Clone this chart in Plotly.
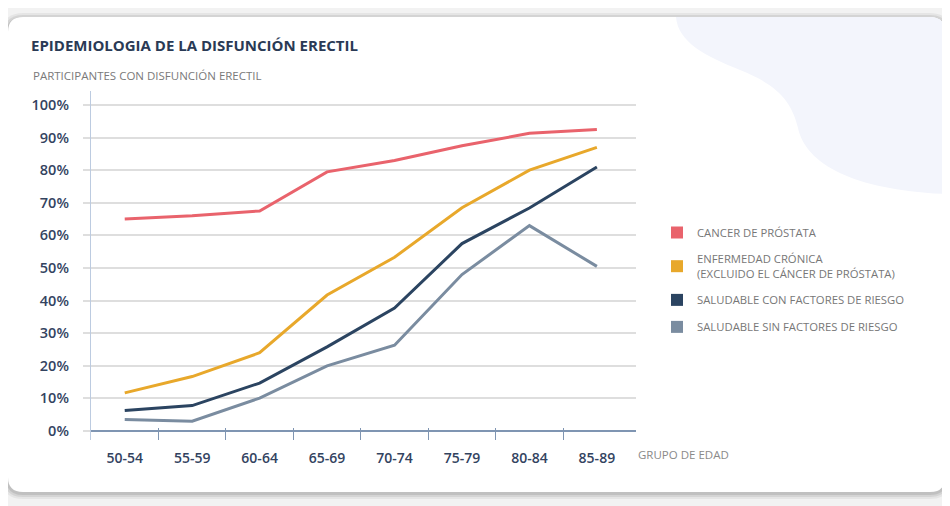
import plotly.graph_objects as go

# ---------------- data ----------------
age_groups = ["50-54", "55-59", "60-64", "65-69", "70-74", "75-79", "80-84", "85-89"]
cancer_prostata = [65, 66, 67.5, 79.5, 83, 87.5, 91.3, 92.5]
enfermedad_cronica = [11.7, 16.7, 24, 41.7, 53.3, 68.5, 80, 87]
saludable_con_factores = [6.3, 7.8, 14.7, 25.8, 37.7, 57.5, 68.4, 81]
saludable_sin_factores = [3.5, 3.0, 10.1, 20, 26.3, 48, 63, 50.5]

series_names = [
    "CANCER DE PRÓSTATA",
    "ENFERMEDAD CRÓNICA<br>(EXCLUIDO EL CÁNCER DE PRÓSTATA)",
    "SALUDABLE CON FACTORES DE RIESGO",
    "SALUDABLE SIN FACTORES DE RIESGO",
]
series_values = [cancer_prostata, enfermedad_cronica, saludable_con_factores, saludable_sin_factores]
series_colors = ["#e9636c", "#e8a82b", "#2b4461", "#7a8ca0"]

y_ticks = list(range(0, 101, 10))
y_labels = [f"{v}%" for v in y_ticks]

# ---------------- geometry helpers ----------------
OFF = 8  # page body margin
W, H = 950 - OFF, 506 - OFF
L, R, T, B = 91, 636, 91, 440  # in reference (window) pixels


def px(x):
    return (x - L) / (R - L)


def py(y):
    return (B - y) / (B - T)


def rrect(x0, y0, x1, y1, r):
    return (
        f"M {px(x0 + r)},{py(y0)} L {px(x1 - r)},{py(y0)} "
        f"Q {px(x1)},{py(y0)} {px(x1)},{py(y0 + r)} "
        f"L {px(x1)},{py(y1 - r)} Q {px(x1)},{py(y1)} {px(x1 - r)},{py(y1)} "
        f"L {px(x0 + r)},{py(y1)} Q {px(x0)},{py(y1)} {px(x0)},{py(y1 - r)} "
        f"L {px(x0)},{py(y0 + r)} Q {px(x0)},{py(y0)} {px(x0 + r)},{py(y0)} Z"
    )


fig = go.Figure()

x_idx = list(range(len(age_groups)))
for name, vals, col in zip(series_names, series_values, series_colors):
    fig.add_trace(go.Scatter(
        x=x_idx, y=vals, mode="lines", line=dict(color=col, width=3),
        showlegend=False, hoverinfo="skip",
    ))

for i, (name, col) in enumerate(zip(series_names, series_colors)):
    fig.add_trace(go.Scatter(
        x=[None], y=[None], mode="markers", xaxis="x2",
        marker=dict(symbol="square", size=12, color=col),
        name=name, legendgroup=f"g{i}", showlegend=True,
    ))

# card shapes
shapes = []
for off, op in [(6, 0.05), (4, 0.07), (2, 0.09)]:
    shapes.append(dict(type="path", xref="paper", yref="paper", layer="below",
                       path=rrect(8 - off, 17 - off + 2, 945 + off, 492 + off + 1, 15 + off),
                       fillcolor=f"rgba(0,0,0,{op})", line=dict(width=0)))
shapes.append(dict(type="path", xref="paper", yref="paper", layer="below",
                   path=rrect(8, 17, 945, 492, 15),
                   fillcolor="#ffffff", line=dict(width=0)))
blob = (f"M {px(676)},{py(17)} "
        f"C {px(678)},{py(42)} {px(705)},{py(56)} {px(740)},{py(70)} "
        f"C {px(778)},{py(85)} {px(792)},{py(102)} {px(798)},{py(128)} "
        f"C {px(806)},{py(165)} {px(855)},{py(190)} {px(945)},{py(194)} "
        f"L {px(945)},{py(32)} Q {px(945)},{py(17)} {px(930)},{py(17)} Z")
shapes.append(dict(type="path", xref="paper", yref="paper", layer="below",
                   path=blob, fillcolor="#f3f5fc", line=dict(width=0)))

y0_px, y100_px = 431, 105
scale = (y0_px - y100_px) / 100
yr = [-(B - y0_px) / scale, 100 + (y100_px - T) / scale]

label_color = "#33435f"
fam = "Open Sans"
fig.update_layout(
    width=W, height=H,
    margin=dict(l=L - OFF, r=950 - R, t=T - OFF, b=506 - B, pad=0),
    paper_bgcolor="#f2f2f2",
    plot_bgcolor="rgba(0,0,0,0)",
    font=dict(family=fam, color=label_color),
    shapes=shapes,
    title=dict(text="EPIDEMIOLOGIA DE LA DISFUNCIÓN ERECTIL",
               x=(31 - OFF) / W, xanchor="left", xref="container",
               y=1 - (46 - OFF) / H, yanchor="middle", yref="container",
               font=dict(family=fam, size=15, color="#2a3a55", weight="bold")),
    xaxis=dict(range=[-0.5, 7.58], tickvals=[i + 0.5 for i in range(len(age_groups) - 1)],
               showticklabels=False, ticks="inside", ticklen=12, tickwidth=1.3,
               tickcolor="#7f95b2", showgrid=False, zeroline=False, showline=False,
               fixedrange=True),
    xaxis2=dict(overlaying="x", matches="x", anchor="y", side="bottom",
                tickvals=x_idx, ticktext=age_groups, ticks="", showgrid=False,
                zeroline=False, showline=False, ticklabelstandoff=8,
                tickfont=dict(family=fam, size=14, color=label_color, weight=600)),
    yaxis=dict(range=yr, tickvals=y_ticks, ticktext=y_labels, ticks="outside",
               ticklen=7, tickcolor="#dedede", tickwidth=1.5,
               showgrid=True, gridcolor="#dedede", gridwidth=1.5,
               zeroline=True, zerolinecolor="#7f95b2", zerolinewidth=1.5,
               showline=True, linecolor="#bccbe0", linewidth=1.3,
               ticklabelstandoff=11,
               tickfont=dict(family=fam, size=14.5, color=label_color, weight=600)),
    legend=dict(x=px(657), xanchor="left", y=py(218), yanchor="top",
                bgcolor="rgba(0,0,0,0)", tracegroupgap=8,
                font=dict(family=fam, size=11.3, color="#777777")),
    annotations=[
        dict(text="PARTICIPANTES CON DISFUNCIÓN ERECTIL", xref="paper", yref="paper",
             x=px(31), y=py(75), xanchor="left", yanchor="middle", showarrow=False,
             font=dict(family=fam, size=11.5, color="#7a7a7a")),
        dict(text="GRUPO DE EDAD", xref="paper", yref="paper",
             x=px(636), y=py(455), xanchor="left", yanchor="middle", showarrow=False,
             font=dict(family=fam, size=11.5, color="#8a8a8a")),
    ],
)

fig.write_html("out.html")
